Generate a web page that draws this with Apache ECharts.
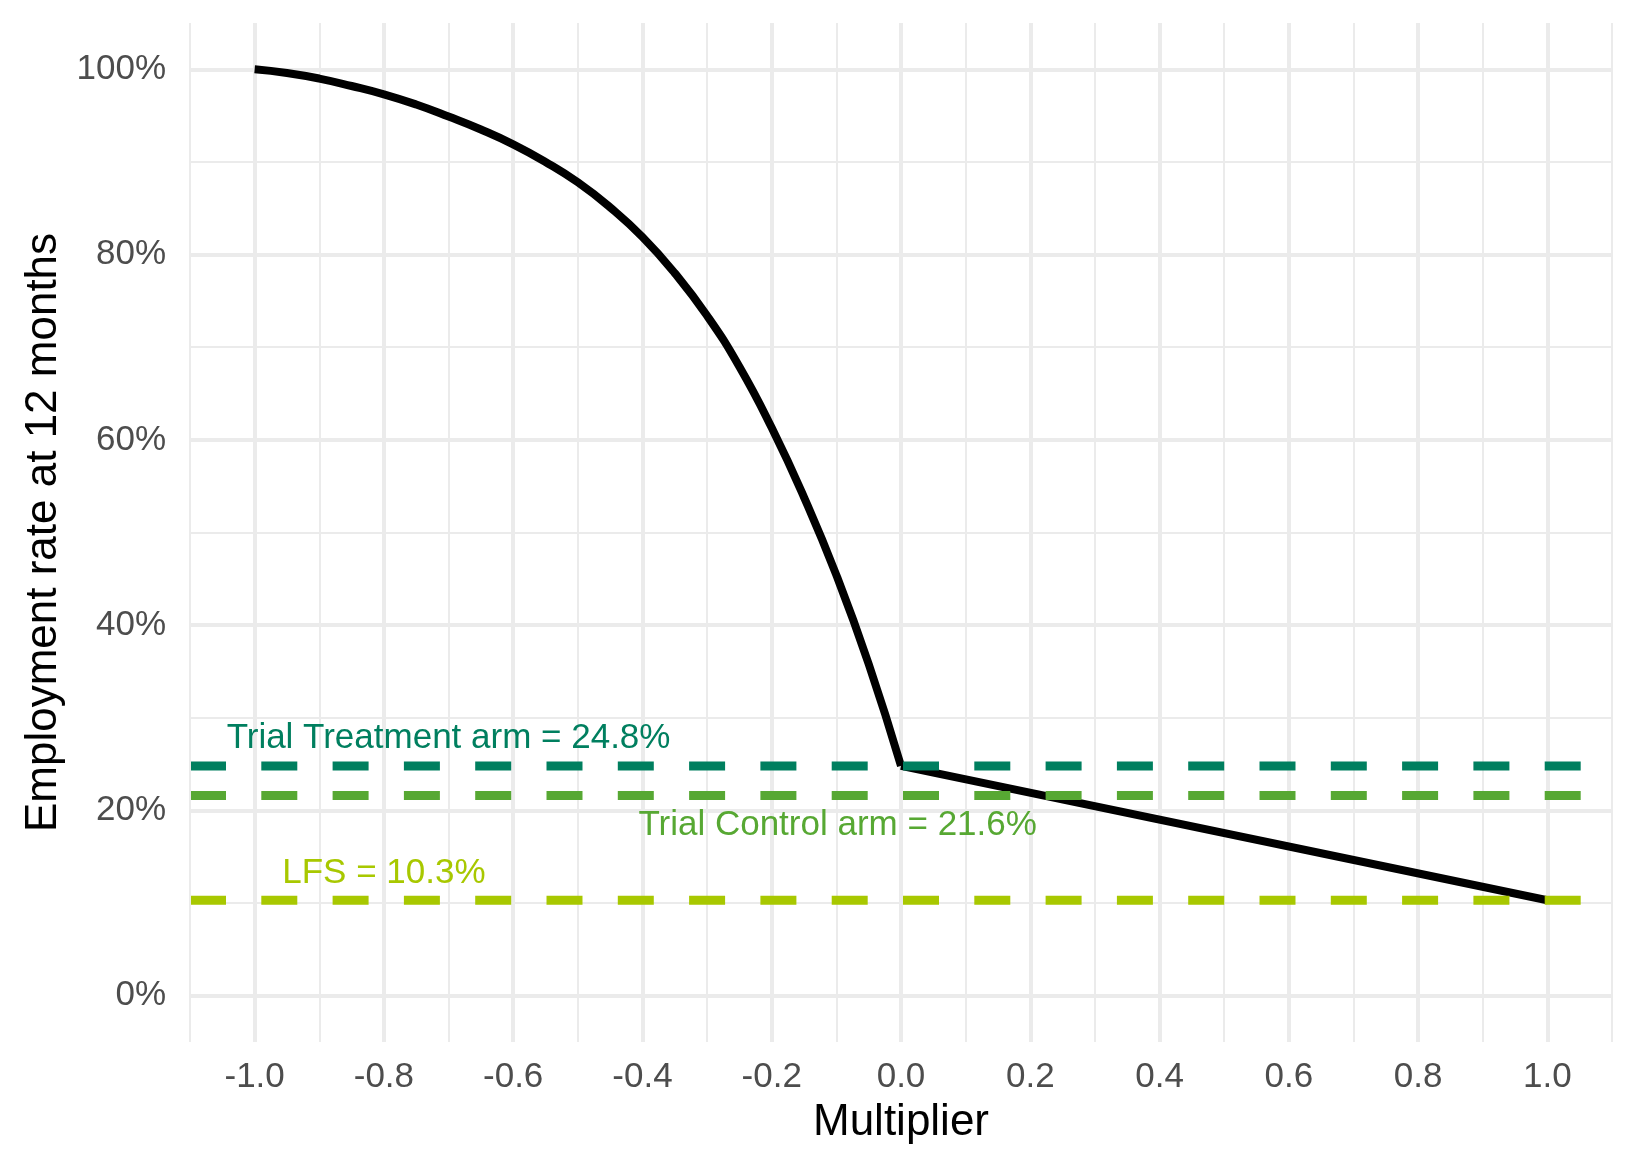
<!DOCTYPE html>
<html>
<head>
<meta charset="utf-8">
<title>Employment rate vs multiplier</title>
<script src="https://cdn.jsdelivr.net/npm/echarts@6/dist/echarts.min.js"></script>
<style>
  html, body { margin: 0; padding: 0; background: #ffffff; }
  #chart { width: 1635px; height: 1171px; }
</style>
</head>
<body>
<div id="chart"></div>
<script>
// --- data ---
// curved branch, multiplier -1 .. 0 (employment rate in %)
var curveX = [-1.0, -0.95, -0.9, -0.85, -0.8, -0.75, -0.7, -0.65, -0.6, -0.55, -0.5,
              -0.45, -0.4, -0.35, -0.3, -0.25, -0.2, -0.15, -0.1, -0.05, 0.0];
var curveY = [100, 99.6, 99.0, 98.2, 97.3, 96.2, 94.9, 93.5, 91.9, 90.0, 87.8,
              85.1, 81.9, 78.0, 73.4, 67.9, 61.3, 53.8, 45.4, 35.8, 24.8];
// straight branch, multiplier 0 .. 1
var lineX = [0.0, 1.0];
var lineY = [24.8, 10.3];
// reference levels
var refNames = ['Trial Treatment arm', 'Trial Control arm', 'LFS'];
var refValues = [24.8, 21.6, 10.3];
// where the annotation texts sit (data units)
var noteX = [-0.70, -0.098, -0.80];
var noteY = [27.8, 18.4, 13.2];

var xMin = -1.1, xMax = 1.1;
var yMin = -5, yMax = 105;

var refColors = ['#007F5F', '#57A833', '#A8C800'];
var gridColor = '#EBEBEB';
var font = '"Liberation Sans", Arial, sans-serif';

var chart = echarts.init(document.getElementById('chart'), null, { renderer: 'canvas' });

function zip(xs, ys) {
  return xs.map(function(x, i) { return [x, ys[i]]; });
}

var series = [];

// edge gridlines at -1.1 / 1.1 (thin, like the minor grid)
series.push({
  type: 'scatter',
  z: 1,
  silent: true,
  data: [],
  markLine: {
    silent: true,
    symbol: 'none',
    label: { show: false },
    lineStyle: { color: gridColor, width: 2, type: 'solid' },
    data: [{ xAxis: xMin }, { xAxis: xMax }]
  }
});

series.push({
  name: 'curve',
  type: 'line',
  z: 3,
  data: zip(curveX, curveY),
  showSymbol: false,
  symbol: 'none',
  smooth: 0.5,
  lineStyle: { color: '#000000', width: 8, cap: 'butt' }
});

series.push({
  name: 'linear',
  type: 'line',
  z: 3,
  data: zip(lineX, lineY),
  showSymbol: false,
  symbol: 'none',
  lineStyle: { color: '#000000', width: 8, cap: 'butt' }
});

refValues.forEach(function(v, i) {
  series.push({
    name: refNames[i],
    type: 'line',
    z: 4,
    data: [[xMin, v], [xMax, v]],
    showSymbol: false,
    symbol: 'none',
    lineStyle: { color: refColors[i], width: 9, type: [36, 35.3], cap: 'butt' }
  });
});

series.push({
  name: 'notes',
  type: 'scatter',
  z: 5,
  silent: true,
  symbolSize: 1,
  itemStyle: { color: 'rgba(0,0,0,0)', opacity: 1 },
  data: noteX.map(function(x, i) {
    return {
      value: [x, noteY[i]],
      name: refNames[i] + ' = ' + refValues[i].toFixed(1) + '%',
      label: { color: refColors[i] }
    };
  }),
  label: {
    show: true,
    position: 'inside',
    formatter: '{b}',
    opacity: 1,
    fontFamily: font,
    fontSize: 35
  }
});

chart.setOption({
  animation: false,
  backgroundColor: '#ffffff',
  grid: { left: 190, right: 23, top: 23, bottom: 129, containLabel: false, outerBoundsMode: 'none' },
  xAxis: {
    type: 'value',
    min: xMin,
    max: xMax,
    splitNumber: 11,
    name: 'Multiplier',
    nameLocation: 'middle',
    nameGap: 59,
    nameTextStyle: { color: '#000000', fontSize: 44, fontFamily: font },
    axisLine: { show: false },
    axisTick: { show: false },
    minorTick: { show: false, splitNumber: 2 },
    axisLabel: {
      color: '#4D4D4D',
      fontSize: 35,
      fontFamily: font,
      margin: 18,
      showMinLabel: false,
      showMaxLabel: false,
      formatter: function(v) { return v.toFixed(1); }
    },
    splitLine: { show: true, showMinLine: false, showMaxLine: false, lineStyle: { color: gridColor, width: 4 } },
    minorSplitLine: { show: true, lineStyle: { color: gridColor, width: 2 } }
  },
  yAxis: {
    type: 'value',
    min: yMin,
    max: yMax,
    splitNumber: 5,
    name: 'Employment rate at 12 months',
    nameLocation: 'middle',
    nameGap: 117,
    nameRotate: 90,
    nameTextStyle: { color: '#000000', fontSize: 44, fontFamily: font },
    axisLine: { show: false },
    axisTick: { show: false },
    minorTick: { show: false, splitNumber: 2 },
    axisLabel: {
      color: '#4D4D4D',
      fontSize: 35,
      fontFamily: font,
      margin: 24,
      showMinLabel: false,
      showMaxLabel: false,
      formatter: function(v) { return Math.round(v) + '%'; }
    },
    splitLine: { show: true, showMinLine: false, showMaxLine: false, lineStyle: { color: gridColor, width: 4 } },
    minorSplitLine: { show: true, lineStyle: { color: gridColor, width: 2 } }
  },
  series: series
});

window.addEventListener('resize', function() { chart.resize(); });
</script>
</body>
</html>
